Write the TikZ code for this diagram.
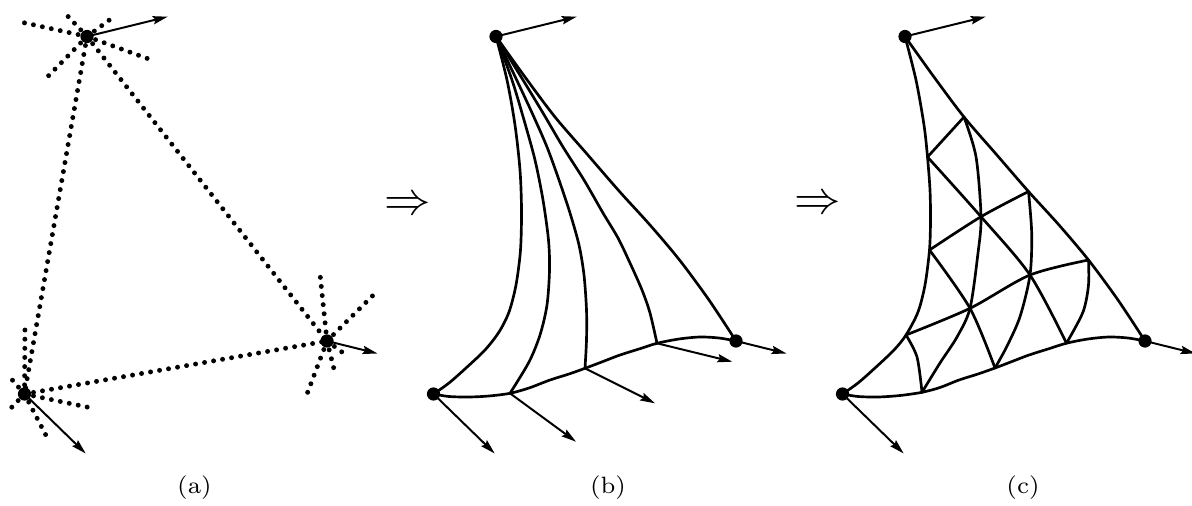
\documentclass[tikz,border=0pt]{standalone}
\usetikzlibrary{arrows.meta}
\newcommand\mkbase[1]{%
  \coordinate (#1T) at (87,36.5);
  \coordinate (#1L) at (24.5,394);
  \coordinate (#1R) at (327,341);
  \coordinate (#1Ta) at (167.7,16.7);
  \coordinate (#1La) at (85.7,453.5);
  \coordinate (#1Ra) at (377.5,353.5);
}
\begin{document}
\begin{tikzpicture}[x=0.025cm,y=-0.025cm,
  curve/.style={line width=1.9pt,line join=round,line cap=round},
  vec/.style={line width=1.4pt,-{Stealth[length=10.5pt,width=5.8pt,inset=1.5pt]}},
  dotline/.style={line width=3.5pt,line cap=round,dash pattern=on 0pt off 6.5pt},
  vdot/.style={fill=black},
  impl/.style={scale=3.3,inner sep=0pt}]
\useasboundingbox (0,0) rectangle (1192,506);

% ---------------- panel (a)
\begin{scope}
\mkbase{a}
\coordinate (aT1) at (24,22.7);
\coordinate (aT2) at (66.7,15);
\coordinate (aT3) at (111.7,18.3);
\coordinate (aT4) at (154.3,61);
\coordinate (aT5) at (48.3,76);
\coordinate (aL1) at (25,323.3);
\coordinate (aL2) at (11.7,379.3);
\coordinate (aL3) at (11.7,407.3);
\coordinate (aL4) at (88.3,407.3);
\coordinate (aL5) at (49.3,441.7);
\coordinate (aR1) at (320,274);
\coordinate (aR2) at (376.7,291.7);
\coordinate (aR3) at (306,396.7);
\coordinate (aR4) at (335.7,376);
\coordinate (aR5) at (348.3,356.7);
\draw[dotline] (aT) -- (aL);
\draw[dotline] (aT) -- (aR);
\draw[dotline] (aL) -- (aR);
\foreach \i in {1,...,5} {
  \draw[dotline] (aT) -- (aT\i);
  \draw[dotline] (aL) -- (aL\i);
  \draw[dotline] (aR) -- (aR\i);
}
\draw[vec] (aT) -- (aTa);
\draw[vec] (aL) -- (aLa);
\draw[vec] (aR) -- (aRa);
\foreach \v in {aT,aL,aR} \fill[vdot] (\v) circle[radius=4.7pt];
\end{scope}

% ---------------- panel (b)
\begin{scope}[shift={(409,0)}]
\mkbase{b}
\coordinate (bB1) at (101,393.3);
\coordinate (bB2) at (176,368.3);
\coordinate (bB3) at (248,343.3);
\coordinate (bB1a) at (167,441.7);
\coordinate (bB2a) at (246,403.3);
\coordinate (bB3a) at (323.3,361.7);
\draw[curve] plot[smooth] coordinates {(bT) (98,80) (106,125) (111,170) (112.5,210) (111.5,250) (107,285) (100,312) (90,332) (76,350) (57,368) (40,383) (bL)};
\draw[curve] plot[smooth] coordinates {(bT) (103,80) (115,120) (126,160) (134,200) (139.5,240) (140.5,270) (138,305) (131,335) (120,362) (bB1)};
\draw[curve] plot[smooth] coordinates {(bT) (107.7,80) (124,115) (138,147) (150,180) (161,213) (170,245) (175,275) (177.5,310) (177.5,340) (bB2)};
\draw[curve] plot[smooth] coordinates {(bT) (114,80) (134,113) (154,147) (175,180) (194,213) (209,238) (221,263) (233,290) (241,313) (bB3)};
\draw[curve] plot[smooth] coordinates {(bT) (116,77) (146,117) (178,154) (210.5,191.5) (241,225) (270.5,260) (300,300) (bR)};
\draw[curve] plot[smooth] coordinates {(bL) (40,396.5) (60,397) (80,396) (bB1) (120,388) (141,380) (160,374) (bB2) (194,361.5) (211,355) (230,349) (bB3) (270,339) (291,337) (310,338) (bR)};
\draw[vec] (bT) -- (bTa);
\draw[vec] (bL) -- (bLa);
\draw[vec] (bR) -- (bRa);
\draw[vec] (bB1) -- (bB1a);
\draw[vec] (bB2) -- (bB2a);
\draw[vec] (bB3) -- (bB3a);
\foreach \v in {bT,bL,bR} \fill[vdot] (\v) circle[radius=4.7pt];
\end{scope}

% ---------------- panel (c)
\begin{scope}[shift={(818,0)}]
\mkbase{c}
\coordinate (cL1) at (109.5,157);
\coordinate (cL2) at (111.5,250);
\coordinate (cL3) at (88,335);
\coordinate (cR1) at (146,117);
\coordinate (cR2) at (210.5,191.5);
\coordinate (cR3) at (270.5,260);
\coordinate (cB1) at (104,392.3);
\coordinate (cB2) at (177,368);
\coordinate (cB3) at (248.5,343.2);
\coordinate (cI1) at (163,216.7);
\coordinate (cI2) at (212,275);
\coordinate (cI3) at (152,308.3);
\draw[curve] plot[smooth] coordinates {(cT) (98,80) (106,125) (cL1) (112,190) (112.5,220) (cL2) (107,285) (100,312) (cL3) (76,350) (57,368) (40,383) (cL)};
\draw[curve] plot[smooth] coordinates {(cT) (116,77) (cR1) (178,154) (cR2) (241,225) (cR3) (300,300) (cR)};
\draw[curve] plot[smooth] coordinates {(cL) (40,396.5) (60,397) (82,395.5) (cB1) (122,387.5) (141,380) (160,374) (cB2) (194,361.5) (211,355) (230,349) (cB3) (270,339) (291,337) (310,338) (cR)};
\draw[curve] (cL1) -- (cR1);
\draw[curve] plot[smooth] coordinates {(cL2) (cI1) (cR2)};
\draw[curve] plot[smooth] coordinates {(cL3) (cI3) (cI2) (cR3)};
\draw[curve] plot[smooth] coordinates {(cL1) (cI1) (cI2) (cB3)};
\draw[curve] plot[smooth] coordinates {(cL2) (cI3) (cB2)};
\draw[curve] plot[smooth] coordinates {(cL3) (99,357) (cB1)};
\draw[curve] plot[smooth] coordinates {(cR1) (158,156.7) (cI1) (160,253) (cI3) (139,337) (122,363) (cB1)};
\draw[curve] plot[smooth] coordinates {(cR2) (213.7,233.3) (cI2) (202,316.7) (188.7,346.7) (cB2)};
\draw[curve] plot[smooth] coordinates {(cR3) (270.5,285) (265,312) (cB3)};
\draw[vec] (cT) -- (cTa);
\draw[vec] (cL) -- (cLa);
\draw[vec] (cR) -- (cRa);
\foreach \v in {cT,cL,cR} \fill[vdot] (\v) circle[radius=4.7pt];
\end{scope}

% ---------------- arrows between panels and labels
\node[impl] (imp1) at (408,206) {$\Rightarrow$};
\node[impl] (imp2) at (818,205) {$\Rightarrow$};
\node[anchor=base,inner sep=0pt,scale=2.4] (la) at (194.5,493) {\fontsize{7}{8.4}\selectfont (a)};
\node[anchor=base,inner sep=0pt,scale=2.4] (lb) at (608,493) {\fontsize{7}{8.4}\selectfont (b)};
\node[anchor=base,inner sep=0pt,scale=2.4] (lc) at (1023,493) {\fontsize{7}{8.4}\selectfont (c)};
\end{tikzpicture}
\end{document}
